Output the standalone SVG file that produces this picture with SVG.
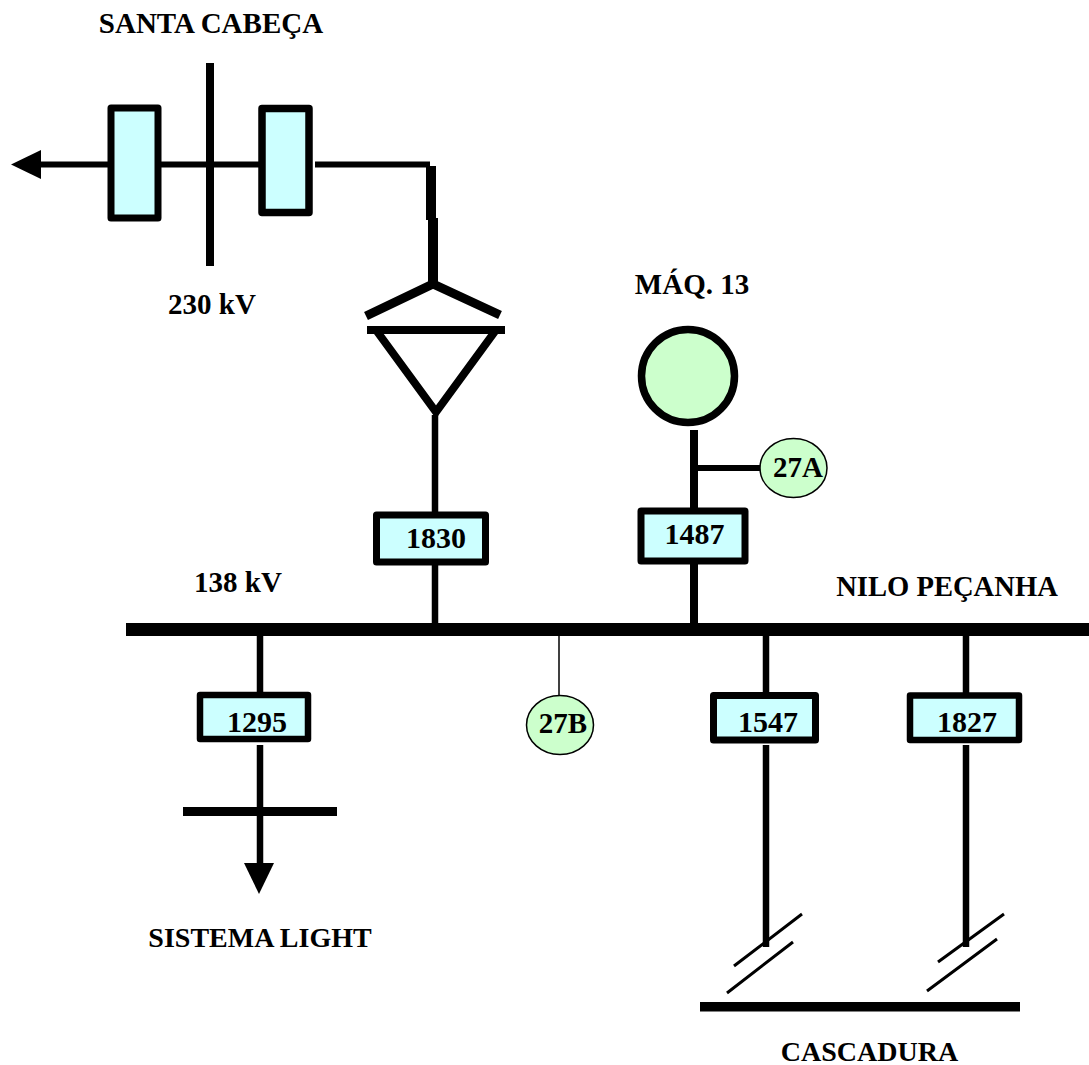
<svg xmlns="http://www.w3.org/2000/svg" width="1089" height="1065" viewBox="0 0 1089 1065">
<style>
.l{stroke:#000;fill:none}
.b{fill:#ccffff;stroke:#000;stroke-linejoin:round}
.t{font-family:"Liberation Serif","Times New Roman",serif;font-weight:bold;font-size:29px;fill:#000;text-anchor:middle}
.n{font-size:30px}
.s{font-size:28px}
.g{fill:#ccffcc;stroke:#000}
</style>
<rect width="1089" height="1065" fill="#fff"/>
<g id="connectors" class="l">
<path stroke-width="8" d="M210 63V266"/>
<path stroke-width="6" d="M38 164.5H110M160 164.5H262M315 164.5H430"/>
<path stroke-width="10" d="M431 166V220"/>
<path stroke-width="10" d="M433 218V286"/>
<path stroke-width="6.5" d="M435 415V515M435 562V628"/>
<path stroke-width="8" d="M694 430V510M694 562V626"/>
<path stroke-width="6" d="M696 468H762"/>
<path stroke-width="1.5" d="M559 634V696"/>
<path stroke-width="6.5" d="M260 634V695M260 745V865M766 634V695M766 745V947M966 634V695M966 745V947"/>
<path stroke-width="3" d="M734 966L802 914M727 993L793 942M938 962L1004 914M927 991L997 939"/>
</g>
<g id="bus-138"><rect x="126" y="623" width="963" height="13" fill="#000"/></g>
<g id="bus-cascadura"><rect x="700" y="1002" width="320" height="9.5" fill="#000"/></g>
<g id="bus-light"><rect x="183" y="807" width="154" height="9" fill="#000"/></g>
<g id="arrow-west"><polygon points="11,164.5 41,150 41,179" fill="#000"/></g>
<g id="arrow-light"><polygon points="244,863 274,863 259,894" fill="#000"/></g>
<g id="breaker-a"><rect class="b" x="111" y="108" width="47" height="110" stroke-width="7"/></g>
<g id="breaker-b"><rect class="b" x="262" y="108.5" width="47" height="104" stroke-width="7.5"/></g>
<g id="transformer">
<path class="l" stroke-width="9" d="M366 316L433 284L500 315"/>
<path class="l" stroke-width="8" d="M367 330H505"/>
<path class="l" stroke-width="8" d="M376 330L436 412L496 330"/>
</g>
<g id="gen-13"><circle class="g" cx="688" cy="376" r="46.5" stroke-width="7.5"/></g>
<g id="relay-27A"><ellipse class="g" cx="793.5" cy="468" rx="33.5" ry="29.5" stroke-width="1.5"/><text class="t" x="798" y="477">27A</text></g>
<g id="relay-27B"><ellipse class="g" cx="560" cy="725" rx="33.5" ry="29.5" stroke-width="1.5"/><text class="t" x="563" y="733">27B</text></g>
<g id="b1830"><rect class="b" x="376.5" y="515" width="109" height="47" stroke-width="7"/><text class="t n" x="436" y="548">1830</text></g>
<g id="b1487"><rect class="b" x="641" y="511" width="104" height="50" stroke-width="7"/><text class="t n" x="694.5" y="544">1487</text></g>
<g id="b1295"><rect class="b" x="200" y="695" width="108" height="44" stroke-width="6.5"/><text class="t n" x="257" y="732">1295</text></g>
<g id="b1547"><rect class="b" x="713.5" y="695.5" width="102" height="44.5" stroke-width="7"/><text class="t n" x="768" y="732">1547</text></g>
<g id="b1827"><rect class="b" x="910" y="695.5" width="109" height="44.5" stroke-width="6.5"/><text class="t n" x="967" y="732">1827</text></g>
<g id="labels">
<text class="t" x="211" y="33">SANTA CABEÇA</text>
<text class="t" x="212" y="314">230 kV</text>
<text class="t" x="692" y="294">MÁQ. 13</text>
<text class="t" x="238" y="592">138 kV</text>
<text class="t" x="947" y="596" style="font-size:28.6px">NILO PEÇANHA</text>
<text class="t s" x="260" y="947">SISTEMA LIGHT</text>
<text class="t s" x="869.5" y="1061">CASCADURA</text>
</g>
</svg>
